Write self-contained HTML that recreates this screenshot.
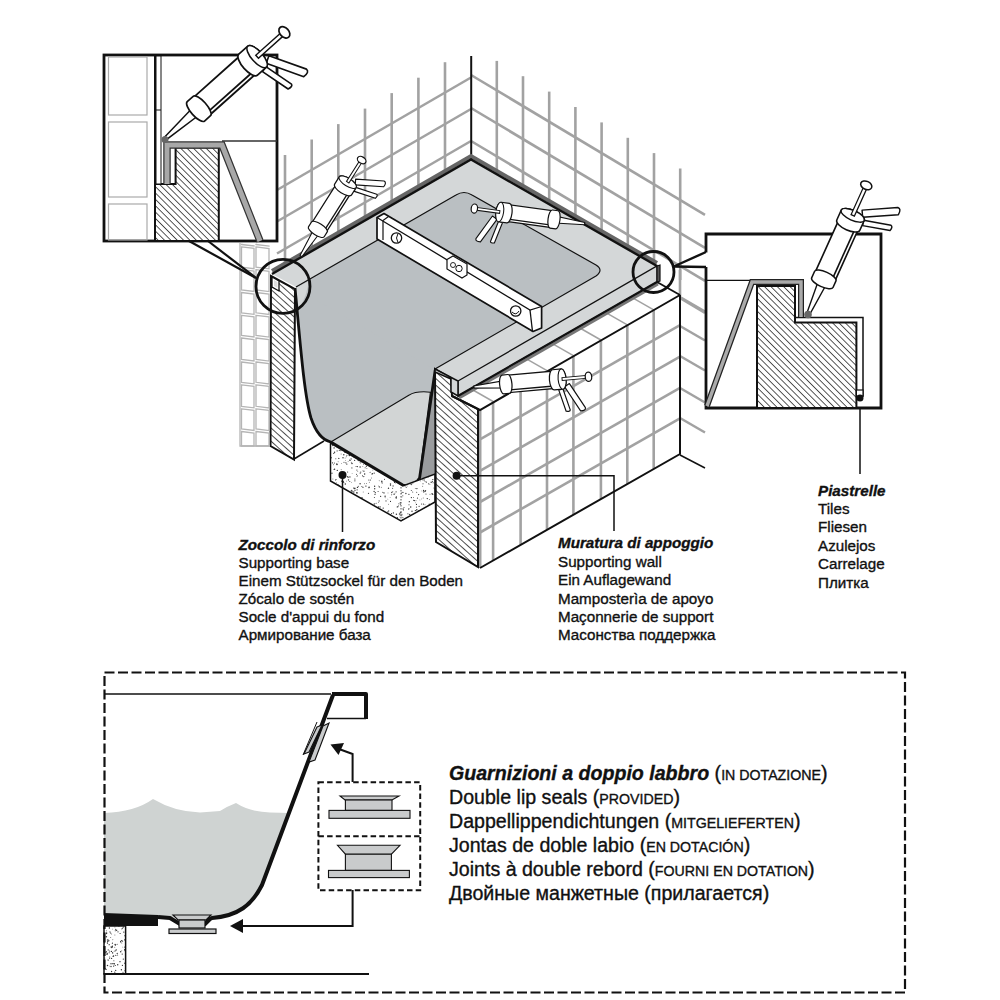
<!DOCTYPE html>
<html><head><meta charset="utf-8"><style>
html,body{margin:0;padding:0;background:#fff;width:1000px;height:1000px;overflow:hidden}
svg{position:absolute;left:0;top:0}
text{font-family:"Liberation Sans",sans-serif;fill:#111;stroke:#111;stroke-width:0.35px}
</style></head><body>
<svg width="1000" height="1000" viewBox="0 0 1000 1000">
<defs>
<pattern id="hatch" patternUnits="userSpaceOnUse" width="4.9" height="10" patternTransform="rotate(-48)">
<rect width="4.9" height="10" fill="#fff"/><line x1="0" y1="0" x2="0" y2="10" stroke="#111" stroke-width="1.5"/>
</pattern>

<pattern id="hatch2" patternUnits="userSpaceOnUse" width="4.5" height="10" patternTransform="rotate(-45)">
<rect width="4.5" height="10" fill="#fff"/><line x1="0" y1="0" x2="0" y2="10" stroke="#111" stroke-width="1.4"/>
</pattern>
</defs>
<rect width="1000" height="1000" fill="#fff"/>

<g stroke="#a2a2a2" stroke-width="2.6"><line x1="285.0" y1="155.0" x2="285.0" y2="263.2"/><line x1="311.7" y1="139.5" x2="311.7" y2="248.2"/><line x1="338.3" y1="124.1" x2="338.3" y2="233.3"/><line x1="365.0" y1="108.6" x2="365.0" y2="218.4"/><line x1="391.7" y1="93.1" x2="391.7" y2="203.4"/><line x1="418.4" y1="77.7" x2="418.4" y2="188.5"/><line x1="445.0" y1="62.2" x2="445.0" y2="173.5"/><line x1="471" y1="77.5" x2="277" y2="190.0"/><line x1="471" y1="109" x2="277" y2="221.5"/><line x1="471" y1="141" x2="277" y2="253.5"/><line x1="496.8" y1="60.9" x2="496.8" y2="280"/><line x1="523.0" y1="76.2" x2="523.0" y2="280"/><line x1="549.2" y1="91.6" x2="549.2" y2="280"/><line x1="575.4" y1="107.0" x2="575.4" y2="280"/><line x1="601.6" y1="122.4" x2="601.6" y2="280"/><line x1="627.8" y1="137.8" x2="627.8" y2="280"/><line x1="654.0" y1="153.1" x2="654.0" y2="280"/><line x1="680.2" y1="168.5" x2="680.2" y2="280"/><line x1="471" y1="75" x2="705" y2="214.9"/><line x1="471" y1="108" x2="705" y2="247.9"/><line x1="471" y1="141" x2="705" y2="280.9"/><line x1="471" y1="173" x2="705" y2="312.9"/></g>
<line x1="471.2" y1="56" x2="471.2" y2="160" stroke="#111" stroke-width="2"/>
<polygon points="272,274 471,159 657,266 660,282 458,381 435,369 296,287" fill="#d4d7d8"/>
<path d="M296,287 L456,195 Q464,190 472,195 L596,265 Q604,270 596,276 L435,369 L432,420 L300,345 Z" fill="#babfc2"/>
<path d="M296,287 L456,195 Q464,190 472,195 L596,265 Q604,270 596,276 L435,369" fill="none" stroke="#111" stroke-width="1.2"/>
<polyline points="272,271 471,156 657,263" fill="none" stroke="#666" stroke-width="4"/>
<polyline points="272,274 471,159.5 657,266" fill="none" stroke="#111" stroke-width="2.4"/>
<polygon points="294,290 305,300 318,436 330,446 294,459" fill="#fff"/>
<path d="M295,288 C300,340 304,395 311,418 C316,433 322,440 330.8,442 L402.8,485 C410,487 416,484 419.6,478 L435.2,370 L380,337 Z" fill="#babfc2"/>
<polygon points="435.2,370 437,370 437,480 419.6,478" fill="#9a9c9e"/>
<polygon points="296,288 309,281 306,294 299,311" fill="#d4d7d8"/>
<path d="M330.8,442 L408.8,395.2 C416,391 424,391.5 430.4,392.2 L433.6,382 L419.6,478 C416,484 410,485.5 402.8,485 Z" fill="#d2d5d5"/>
<path d="M330.8,442 L408.8,395.2 C416,391 424,391.5 430.4,392.2 L420.5,468" fill="none" stroke="#111" stroke-width="1.1"/>
<path d="M295,288 C300,340 304,395 311,418 C316,433 322,440 330.8,442 L402.8,485 C410,487 416,484 419.6,478 L435.2,370" fill="none" stroke="#111" stroke-width="2.8" stroke-linejoin="round"/>
<line x1="294" y1="459" x2="324" y2="441" stroke="#111" stroke-width="1.5"/>
<polygon points="271,276 295,289 294,459.6 270.5,446" fill="url(#hatch)" stroke="#111" stroke-width="2"/>
<polygon points="272,277 279,281 279,291 272,287" fill="#fff" stroke="#111" stroke-width="1.3"/>
<polygon points="274,280 277.5,282 277.5,288 274,286" fill="#ddd"/>
<g stroke="#b5b5b5" stroke-width="1.3" fill="none"><polygon points="241.5,244.5 254,246.0 254,245.9 241.5,244.4"/><polygon points="256,244.5 269,246.1 269,246.0 256,244.4"/><polygon points="241.5,246.9 254,248.4 254,268.7 241.5,267.2"/><polygon points="256,246.9 269,248.5 269,268.8 256,267.2"/><polygon points="241.5,269.7 254,271.2 254,291.5 241.5,290.0"/><polygon points="256,269.7 269,271.3 269,291.6 256,290.0"/><polygon points="241.5,292.5 254,294.0 254,314.3 241.5,312.8"/><polygon points="256,292.5 269,294.1 269,314.4 256,312.8"/><polygon points="241.5,315.3 254,316.8 254,337.0 241.5,335.5"/><polygon points="256,315.3 269,316.9 269,337.1 256,335.5"/><polygon points="241.5,338.0 254,339.5 254,361.0 241.5,359.5"/><polygon points="256,338.0 269,339.6 269,361.1 256,359.5"/><polygon points="241.5,362.0 254,363.5 254,383.8 241.5,382.3"/><polygon points="256,362.0 269,363.6 269,383.9 256,382.3"/><polygon points="241.5,384.8 254,386.3 254,407.8 241.5,406.3"/><polygon points="256,384.8 269,386.4 269,407.9 256,406.3"/><polygon points="241.5,408.8 254,410.3 254,430.5 241.5,429.0"/><polygon points="256,408.8 269,410.4 269,430.6 256,429.0"/><polygon points="241.5,431.5 254,433.0 254,446.0 241.5,446.0"/><polygon points="256,431.5 269,433.1 269,446.0 256,446.0"/><polyline points="240,243 240,446 270,446"/></g>
<clipPath id="clp1"><polygon points="330.5,443 402.8,486 435,474 435,502 401,521 330.5,481"/></clipPath><polygon points="330.5,443 402.8,486 435,474 435,502 401,521 330.5,481" fill="#fff"/><g clip-path="url(#clp1)" fill="#333"><circle cx="364.3" cy="454.8" r="0.63"/><circle cx="338.1" cy="484.8" r="0.53"/><circle cx="336.6" cy="482.6" r="0.41"/><circle cx="375.8" cy="448.4" r="0.43"/><circle cx="374.9" cy="507.5" r="0.44"/><circle cx="353.8" cy="491.9" r="0.73"/><circle cx="390.8" cy="473.9" r="0.74"/><circle cx="335.4" cy="510.0" r="0.50"/><circle cx="345.6" cy="452.2" r="0.51"/><circle cx="415.8" cy="457.1" r="0.60"/><circle cx="397.3" cy="472.0" r="0.59"/><circle cx="337.1" cy="447.6" r="0.47"/><circle cx="401.6" cy="476.4" r="0.51"/><circle cx="391.7" cy="478.3" r="0.50"/><circle cx="413.5" cy="497.5" r="0.49"/><circle cx="390.5" cy="484.0" r="0.71"/><circle cx="406.7" cy="465.5" r="0.74"/><circle cx="342.8" cy="475.6" r="0.66"/><circle cx="346.4" cy="481.1" r="0.41"/><circle cx="400.3" cy="502.6" r="0.60"/><circle cx="422.0" cy="467.5" r="0.64"/><circle cx="392.6" cy="488.2" r="0.56"/><circle cx="418.3" cy="516.7" r="0.57"/><circle cx="399.9" cy="447.7" r="0.65"/><circle cx="398.1" cy="520.5" r="0.69"/><circle cx="360.2" cy="473.1" r="0.63"/><circle cx="332.9" cy="479.0" r="0.46"/><circle cx="342.7" cy="447.6" r="0.67"/><circle cx="344.0" cy="462.3" r="0.54"/><circle cx="421.6" cy="449.3" r="0.56"/><circle cx="387.9" cy="511.9" r="0.69"/><circle cx="420.8" cy="464.7" r="0.55"/><circle cx="368.0" cy="512.0" r="0.74"/><circle cx="346.3" cy="456.7" r="0.48"/><circle cx="354.9" cy="480.8" r="0.61"/><circle cx="358.0" cy="443.3" r="0.55"/><circle cx="369.1" cy="487.2" r="0.73"/><circle cx="402.7" cy="483.2" r="0.62"/><circle cx="401.2" cy="447.2" r="0.71"/><circle cx="412.0" cy="511.2" r="0.68"/><circle cx="371.5" cy="474.1" r="0.44"/><circle cx="396.8" cy="447.9" r="0.42"/><circle cx="352.3" cy="455.7" r="0.52"/><circle cx="336.0" cy="443.0" r="0.45"/><circle cx="341.1" cy="471.4" r="0.41"/><circle cx="421.9" cy="490.9" r="0.45"/><circle cx="356.9" cy="470.1" r="0.53"/><circle cx="343.3" cy="509.2" r="0.75"/><circle cx="379.2" cy="480.7" r="0.43"/><circle cx="341.2" cy="469.7" r="0.49"/><circle cx="417.1" cy="455.6" r="0.41"/><circle cx="429.9" cy="484.2" r="0.45"/><circle cx="387.3" cy="445.1" r="0.58"/><circle cx="432.8" cy="510.3" r="0.64"/><circle cx="357.8" cy="471.6" r="0.46"/><circle cx="411.2" cy="484.5" r="0.67"/><circle cx="364.9" cy="460.4" r="0.68"/><circle cx="433.4" cy="509.5" r="0.68"/><circle cx="416.0" cy="500.7" r="0.48"/><circle cx="384.6" cy="470.7" r="0.41"/><circle cx="333.4" cy="464.8" r="0.49"/><circle cx="402.9" cy="517.6" r="0.56"/><circle cx="428.4" cy="520.1" r="0.73"/><circle cx="368.6" cy="460.2" r="0.48"/><circle cx="351.1" cy="458.9" r="0.62"/><circle cx="424.6" cy="508.6" r="0.57"/><circle cx="398.7" cy="505.4" r="0.43"/><circle cx="399.5" cy="514.0" r="0.67"/><circle cx="408.9" cy="480.3" r="0.46"/><circle cx="413.0" cy="468.9" r="0.68"/><circle cx="432.0" cy="473.9" r="0.54"/><circle cx="429.4" cy="499.5" r="0.46"/><circle cx="343.8" cy="454.8" r="0.72"/><circle cx="414.8" cy="454.4" r="0.69"/><circle cx="432.9" cy="494.3" r="0.52"/><circle cx="387.8" cy="453.2" r="0.40"/><circle cx="432.0" cy="493.7" r="0.58"/><circle cx="428.1" cy="476.8" r="0.71"/><circle cx="416.8" cy="459.5" r="0.49"/><circle cx="361.1" cy="461.8" r="0.61"/><circle cx="357.6" cy="475.7" r="0.45"/><circle cx="425.6" cy="470.6" r="0.56"/><circle cx="391.5" cy="513.5" r="0.55"/><circle cx="426.4" cy="482.1" r="0.59"/><circle cx="385.2" cy="444.5" r="0.55"/><circle cx="349.6" cy="443.3" r="0.68"/><circle cx="348.5" cy="479.9" r="0.65"/><circle cx="388.7" cy="468.4" r="0.58"/><circle cx="388.5" cy="504.2" r="0.44"/><circle cx="389.1" cy="462.4" r="0.50"/><circle cx="411.2" cy="482.6" r="0.60"/><circle cx="409.9" cy="514.2" r="0.56"/><circle cx="394.5" cy="482.4" r="0.58"/><circle cx="402.9" cy="478.3" r="0.59"/><circle cx="380.5" cy="516.4" r="0.64"/><circle cx="422.1" cy="516.5" r="0.49"/><circle cx="389.0" cy="516.6" r="0.69"/><circle cx="344.8" cy="452.5" r="0.55"/><circle cx="338.1" cy="461.8" r="0.43"/><circle cx="400.5" cy="504.1" r="0.71"/><circle cx="346.6" cy="498.9" r="0.63"/><circle cx="345.4" cy="511.9" r="0.74"/><circle cx="353.4" cy="517.3" r="0.54"/><circle cx="381.4" cy="520.2" r="0.69"/><circle cx="347.4" cy="476.7" r="0.58"/><circle cx="365.9" cy="458.3" r="0.51"/><circle cx="406.0" cy="444.5" r="0.59"/><circle cx="376.5" cy="444.4" r="0.52"/><circle cx="395.7" cy="483.0" r="0.42"/><circle cx="433.4" cy="504.5" r="0.74"/><circle cx="341.4" cy="463.7" r="0.41"/><circle cx="411.9" cy="464.1" r="0.45"/><circle cx="374.6" cy="514.1" r="0.69"/><circle cx="357.5" cy="454.7" r="0.72"/><circle cx="390.1" cy="497.6" r="0.43"/><circle cx="336.5" cy="496.7" r="0.55"/><circle cx="338.1" cy="516.2" r="0.62"/><circle cx="414.3" cy="449.5" r="0.70"/><circle cx="337.5" cy="510.3" r="0.56"/><circle cx="365.9" cy="486.1" r="0.72"/><circle cx="358.5" cy="453.1" r="0.58"/><circle cx="355.4" cy="451.5" r="0.46"/><circle cx="335.8" cy="458.7" r="0.51"/><circle cx="362.4" cy="502.2" r="0.50"/><circle cx="382.8" cy="456.9" r="0.52"/><circle cx="332.4" cy="462.5" r="0.41"/><circle cx="407.1" cy="486.0" r="0.47"/><circle cx="380.1" cy="515.9" r="0.44"/><circle cx="416.1" cy="476.7" r="0.57"/><circle cx="417.7" cy="473.7" r="0.58"/><circle cx="402.4" cy="519.6" r="0.52"/><circle cx="417.5" cy="498.1" r="0.62"/><circle cx="372.8" cy="470.1" r="0.42"/><circle cx="344.1" cy="448.5" r="0.66"/><circle cx="357.2" cy="455.7" r="0.43"/><circle cx="418.4" cy="510.9" r="0.63"/><circle cx="360.0" cy="461.9" r="0.50"/><circle cx="378.5" cy="455.3" r="0.56"/><circle cx="358.0" cy="518.0" r="0.74"/><circle cx="387.7" cy="462.1" r="0.74"/><circle cx="362.8" cy="470.8" r="0.40"/><circle cx="370.4" cy="480.0" r="0.58"/><circle cx="351.5" cy="482.4" r="0.40"/><circle cx="358.1" cy="450.0" r="0.54"/><circle cx="334.9" cy="444.8" r="0.51"/><circle cx="354.8" cy="488.7" r="0.59"/><circle cx="408.9" cy="494.3" r="0.65"/><circle cx="422.4" cy="473.4" r="0.51"/><circle cx="433.4" cy="454.7" r="0.65"/><circle cx="397.7" cy="446.4" r="0.69"/><circle cx="423.7" cy="491.9" r="0.66"/><circle cx="415.4" cy="453.9" r="0.58"/><circle cx="383.2" cy="508.1" r="0.68"/><circle cx="416.9" cy="488.6" r="0.71"/><circle cx="401.9" cy="497.1" r="0.48"/><circle cx="333.8" cy="453.4" r="0.53"/><circle cx="341.5" cy="508.2" r="0.60"/><circle cx="396.1" cy="491.8" r="0.64"/><circle cx="381.6" cy="443.3" r="0.68"/><circle cx="408.7" cy="482.2" r="0.59"/><circle cx="399.4" cy="448.2" r="0.66"/><circle cx="356.9" cy="448.8" r="0.49"/><circle cx="406.7" cy="459.0" r="0.66"/><circle cx="432.5" cy="481.5" r="0.53"/><circle cx="380.6" cy="496.3" r="0.67"/><circle cx="395.0" cy="493.1" r="0.43"/><circle cx="345.9" cy="462.8" r="0.66"/><circle cx="362.3" cy="487.3" r="0.40"/><circle cx="336.8" cy="464.0" r="0.64"/><circle cx="402.8" cy="495.7" r="0.50"/><circle cx="384.5" cy="479.2" r="0.56"/><circle cx="342.9" cy="512.7" r="0.47"/><circle cx="432.7" cy="516.0" r="0.41"/><circle cx="378.5" cy="507.0" r="0.74"/><circle cx="377.5" cy="464.0" r="0.47"/><circle cx="429.3" cy="459.4" r="0.60"/><circle cx="345.3" cy="483.9" r="0.73"/><circle cx="344.4" cy="507.0" r="0.58"/><circle cx="423.2" cy="497.9" r="0.48"/><circle cx="424.3" cy="480.9" r="0.41"/><circle cx="330.9" cy="481.4" r="0.56"/><circle cx="362.1" cy="454.0" r="0.52"/><circle cx="363.5" cy="508.5" r="0.40"/><circle cx="409.0" cy="508.5" r="0.44"/><circle cx="427.3" cy="498.6" r="0.72"/><circle cx="360.8" cy="472.0" r="0.54"/><circle cx="434.9" cy="489.0" r="0.53"/><circle cx="375.2" cy="464.5" r="0.42"/><circle cx="341.1" cy="508.1" r="0.50"/><circle cx="428.3" cy="462.4" r="0.49"/><circle cx="383.9" cy="457.8" r="0.53"/><circle cx="430.4" cy="512.0" r="0.68"/><circle cx="396.4" cy="514.2" r="0.73"/><circle cx="387.9" cy="499.1" r="0.42"/><circle cx="407.0" cy="478.2" r="0.66"/><circle cx="397.8" cy="465.3" r="0.42"/><circle cx="427.3" cy="452.9" r="0.57"/><circle cx="366.4" cy="466.2" r="0.66"/><circle cx="432.5" cy="463.3" r="0.63"/><circle cx="361.9" cy="486.5" r="0.54"/><circle cx="348.0" cy="455.6" r="0.47"/><circle cx="425.2" cy="481.8" r="0.48"/><circle cx="425.2" cy="520.7" r="0.56"/><circle cx="345.1" cy="458.0" r="0.43"/><circle cx="366.2" cy="450.1" r="0.48"/><circle cx="357.5" cy="487.4" r="0.71"/><circle cx="408.8" cy="475.2" r="0.54"/><circle cx="385.3" cy="472.4" r="0.52"/><circle cx="337.0" cy="464.6" r="0.74"/><circle cx="343.7" cy="482.3" r="0.62"/><circle cx="420.7" cy="459.8" r="0.49"/><circle cx="356.5" cy="474.2" r="0.56"/><circle cx="430.2" cy="509.2" r="0.71"/><circle cx="332.8" cy="445.5" r="0.65"/><circle cx="424.1" cy="479.9" r="0.61"/><circle cx="330.5" cy="473.5" r="0.72"/><circle cx="416.8" cy="509.7" r="0.74"/><circle cx="356.5" cy="451.5" r="0.45"/><circle cx="385.1" cy="496.2" r="0.73"/><circle cx="405.9" cy="493.5" r="0.67"/><circle cx="378.3" cy="486.0" r="0.41"/><circle cx="412.3" cy="461.1" r="0.72"/><circle cx="398.0" cy="466.7" r="0.44"/><circle cx="356.8" cy="492.6" r="0.64"/><circle cx="342.2" cy="448.5" r="0.58"/><circle cx="391.4" cy="473.3" r="0.48"/><circle cx="393.3" cy="443.8" r="0.51"/><circle cx="378.6" cy="517.8" r="0.63"/><circle cx="422.9" cy="480.1" r="0.48"/><circle cx="356.3" cy="517.9" r="0.65"/><circle cx="362.6" cy="444.7" r="0.57"/><circle cx="401.0" cy="475.8" r="0.49"/><circle cx="400.2" cy="515.2" r="0.48"/><circle cx="334.1" cy="469.4" r="0.55"/><circle cx="401.8" cy="458.5" r="0.68"/><circle cx="407.7" cy="482.4" r="0.47"/><circle cx="431.9" cy="467.3" r="0.69"/><circle cx="354.6" cy="460.3" r="0.67"/><circle cx="361.3" cy="517.3" r="0.57"/><circle cx="350.1" cy="460.4" r="0.55"/><circle cx="400.0" cy="517.0" r="0.45"/><circle cx="371.6" cy="459.6" r="0.74"/><circle cx="345.3" cy="447.0" r="0.42"/><circle cx="371.6" cy="513.1" r="0.71"/><circle cx="407.1" cy="520.8" r="0.73"/><circle cx="364.9" cy="457.5" r="0.73"/><circle cx="408.5" cy="445.5" r="0.63"/><circle cx="370.1" cy="472.2" r="0.52"/><circle cx="348.2" cy="443.2" r="0.50"/><circle cx="367.2" cy="517.5" r="0.44"/><circle cx="431.3" cy="459.2" r="0.52"/><circle cx="416.4" cy="507.1" r="0.55"/><circle cx="335.6" cy="479.9" r="0.53"/><circle cx="426.6" cy="458.1" r="0.53"/><circle cx="424.2" cy="445.4" r="0.54"/><circle cx="415.3" cy="502.8" r="0.41"/><circle cx="334.1" cy="447.9" r="0.72"/><circle cx="357.4" cy="501.3" r="0.71"/><circle cx="365.9" cy="464.2" r="0.74"/><circle cx="395.0" cy="463.4" r="0.65"/><circle cx="363.6" cy="464.5" r="0.40"/><circle cx="409.5" cy="514.5" r="0.62"/><circle cx="429.1" cy="444.9" r="0.48"/><circle cx="380.2" cy="517.6" r="0.73"/><circle cx="370.9" cy="462.6" r="0.55"/><circle cx="382.1" cy="515.4" r="0.46"/><circle cx="414.4" cy="500.6" r="0.69"/><circle cx="411.3" cy="490.4" r="0.51"/><circle cx="363.9" cy="471.2" r="0.67"/><circle cx="338.8" cy="458.4" r="0.66"/><circle cx="356.3" cy="448.0" r="0.41"/><circle cx="388.2" cy="468.4" r="0.74"/><circle cx="422.8" cy="520.1" r="0.49"/><circle cx="339.3" cy="450.5" r="0.57"/><circle cx="404.7" cy="477.9" r="0.48"/><circle cx="374.1" cy="491.4" r="0.64"/><circle cx="408.7" cy="509.1" r="0.63"/><circle cx="343.2" cy="508.6" r="0.50"/><circle cx="389.7" cy="472.1" r="0.66"/><circle cx="351.3" cy="462.3" r="0.49"/><circle cx="346.5" cy="512.0" r="0.60"/><circle cx="364.6" cy="473.9" r="0.75"/><circle cx="383.5" cy="461.0" r="0.68"/><circle cx="398.8" cy="520.3" r="0.44"/><circle cx="380.1" cy="506.9" r="0.69"/><circle cx="426.1" cy="446.1" r="0.50"/><circle cx="343.0" cy="457.8" r="0.74"/><circle cx="391.4" cy="515.6" r="0.53"/><circle cx="421.0" cy="478.0" r="0.49"/><circle cx="411.8" cy="516.8" r="0.44"/><circle cx="392.8" cy="491.4" r="0.48"/><circle cx="369.0" cy="454.0" r="0.47"/><circle cx="357.1" cy="489.8" r="0.63"/><circle cx="351.8" cy="443.9" r="0.51"/><circle cx="401.4" cy="457.4" r="0.51"/><circle cx="351.8" cy="505.0" r="0.59"/><circle cx="337.1" cy="450.9" r="0.54"/><circle cx="388.0" cy="492.9" r="0.43"/><circle cx="347.6" cy="497.2" r="0.54"/><circle cx="360.1" cy="467.0" r="0.73"/><circle cx="363.1" cy="487.2" r="0.53"/><circle cx="374.0" cy="510.4" r="0.75"/><circle cx="368.5" cy="458.4" r="0.65"/><circle cx="351.8" cy="443.5" r="0.72"/><circle cx="374.8" cy="507.0" r="0.54"/><circle cx="422.8" cy="479.0" r="0.46"/><circle cx="332.1" cy="486.0" r="0.62"/><circle cx="425.6" cy="449.9" r="0.62"/><circle cx="369.3" cy="482.3" r="0.45"/><circle cx="360.1" cy="483.7" r="0.72"/><circle cx="341.9" cy="481.3" r="0.68"/><circle cx="431.5" cy="458.4" r="0.44"/><circle cx="429.1" cy="519.1" r="0.57"/><circle cx="336.1" cy="515.2" r="0.54"/><circle cx="425.0" cy="491.4" r="0.69"/><circle cx="347.2" cy="504.3" r="0.48"/><circle cx="372.8" cy="509.0" r="0.69"/><circle cx="349.6" cy="460.0" r="0.54"/><circle cx="384.6" cy="472.9" r="0.44"/><circle cx="356.3" cy="499.5" r="0.71"/><circle cx="334.8" cy="486.9" r="0.67"/><circle cx="334.5" cy="508.4" r="0.44"/><circle cx="393.1" cy="485.9" r="0.62"/><circle cx="362.5" cy="475.8" r="0.60"/><circle cx="375.0" cy="494.4" r="0.56"/><circle cx="376.3" cy="444.8" r="0.62"/><circle cx="381.7" cy="461.3" r="0.67"/><circle cx="412.0" cy="478.7" r="0.46"/><circle cx="380.0" cy="451.4" r="0.44"/><circle cx="375.5" cy="450.2" r="0.55"/><circle cx="383.8" cy="446.2" r="0.62"/><circle cx="339.1" cy="500.2" r="0.67"/><circle cx="383.9" cy="447.2" r="0.58"/><circle cx="370.0" cy="517.2" r="0.45"/><circle cx="420.1" cy="520.7" r="0.66"/><circle cx="415.7" cy="458.1" r="0.74"/><circle cx="381.9" cy="517.6" r="0.72"/><circle cx="347.8" cy="504.5" r="0.73"/><circle cx="337.3" cy="470.4" r="0.66"/><circle cx="347.1" cy="512.9" r="0.50"/><circle cx="415.7" cy="454.2" r="0.58"/><circle cx="426.6" cy="459.2" r="0.49"/><circle cx="383.4" cy="467.9" r="0.41"/><circle cx="349.5" cy="455.6" r="0.73"/><circle cx="401.5" cy="512.8" r="0.46"/><circle cx="412.5" cy="452.0" r="0.59"/><circle cx="397.0" cy="471.1" r="0.71"/><circle cx="388.5" cy="488.2" r="0.71"/><circle cx="341.4" cy="520.5" r="0.62"/><circle cx="371.7" cy="505.2" r="0.49"/><circle cx="434.0" cy="488.0" r="0.53"/><circle cx="410.4" cy="477.5" r="0.46"/><circle cx="408.2" cy="446.8" r="0.69"/><circle cx="357.0" cy="492.9" r="0.74"/><circle cx="391.7" cy="494.8" r="0.51"/><circle cx="330.7" cy="445.6" r="0.45"/><circle cx="394.9" cy="476.7" r="0.58"/><circle cx="424.1" cy="453.3" r="0.48"/><circle cx="398.7" cy="444.7" r="0.40"/><circle cx="367.6" cy="451.3" r="0.53"/><circle cx="353.9" cy="488.5" r="0.61"/><circle cx="351.8" cy="491.7" r="0.57"/><circle cx="344.6" cy="516.1" r="0.49"/><circle cx="346.1" cy="450.5" r="0.62"/><circle cx="421.5" cy="504.0" r="0.54"/><circle cx="358.1" cy="443.9" r="0.63"/><circle cx="389.3" cy="470.3" r="0.63"/><circle cx="376.9" cy="516.1" r="0.66"/><circle cx="356.5" cy="513.5" r="0.42"/><circle cx="386.0" cy="474.7" r="0.48"/><circle cx="336.6" cy="503.8" r="0.40"/><circle cx="388.1" cy="516.4" r="0.45"/><circle cx="351.3" cy="490.4" r="0.58"/><circle cx="397.5" cy="506.4" r="0.46"/><circle cx="362.8" cy="466.4" r="0.42"/><circle cx="423.4" cy="504.1" r="0.65"/><circle cx="331.2" cy="508.9" r="0.66"/><circle cx="379.1" cy="500.9" r="0.56"/><circle cx="354.1" cy="451.2" r="0.48"/><circle cx="334.6" cy="469.2" r="0.66"/><circle cx="403.1" cy="508.9" r="0.65"/><circle cx="358.3" cy="486.2" r="0.55"/><circle cx="412.9" cy="483.8" r="0.49"/><circle cx="397.6" cy="518.3" r="0.48"/><circle cx="422.5" cy="444.2" r="0.49"/><circle cx="355.2" cy="501.0" r="0.73"/><circle cx="408.5" cy="468.5" r="0.71"/><circle cx="364.8" cy="461.7" r="0.72"/><circle cx="396.4" cy="497.0" r="0.63"/><circle cx="432.8" cy="479.6" r="0.69"/><circle cx="403.4" cy="509.9" r="0.55"/><circle cx="406.2" cy="487.5" r="0.51"/><circle cx="352.7" cy="491.6" r="0.43"/><circle cx="425.7" cy="454.3" r="0.41"/><circle cx="341.6" cy="515.5" r="0.52"/><circle cx="345.3" cy="445.2" r="0.41"/><circle cx="402.9" cy="492.4" r="0.64"/><circle cx="407.5" cy="448.1" r="0.61"/><circle cx="368.5" cy="506.8" r="0.69"/><circle cx="423.6" cy="448.1" r="0.70"/><circle cx="426.1" cy="516.7" r="0.44"/><circle cx="352.0" cy="451.7" r="0.41"/><circle cx="419.1" cy="506.3" r="0.62"/><circle cx="416.7" cy="492.3" r="0.50"/><circle cx="340.9" cy="450.6" r="0.67"/><circle cx="351.9" cy="467.9" r="0.55"/><circle cx="332.7" cy="463.0" r="0.50"/><circle cx="405.3" cy="471.7" r="0.51"/><circle cx="431.2" cy="482.3" r="0.70"/><circle cx="395.1" cy="445.4" r="0.54"/><circle cx="376.1" cy="503.3" r="0.52"/><circle cx="404.1" cy="485.0" r="0.48"/><circle cx="420.6" cy="450.1" r="0.69"/><circle cx="348.3" cy="443.1" r="0.47"/><circle cx="410.1" cy="519.3" r="0.40"/><circle cx="381.8" cy="481.3" r="0.68"/><circle cx="349.8" cy="481.6" r="0.52"/><circle cx="417.4" cy="463.3" r="0.73"/><circle cx="360.1" cy="459.7" r="0.64"/><circle cx="382.6" cy="451.6" r="0.62"/><circle cx="339.0" cy="504.5" r="0.64"/><circle cx="412.7" cy="492.0" r="0.52"/><circle cx="372.4" cy="473.8" r="0.71"/><circle cx="339.5" cy="512.3" r="0.41"/><circle cx="352.0" cy="463.5" r="0.72"/><circle cx="382.9" cy="472.6" r="0.71"/><circle cx="354.9" cy="479.0" r="0.59"/><circle cx="409.3" cy="501.7" r="0.63"/><circle cx="366.9" cy="468.5" r="0.45"/><circle cx="418.6" cy="494.6" r="0.66"/><circle cx="348.2" cy="477.2" r="0.67"/><circle cx="391.0" cy="452.8" r="0.56"/><circle cx="423.0" cy="461.6" r="0.47"/><circle cx="362.0" cy="497.8" r="0.70"/><circle cx="346.7" cy="455.2" r="0.49"/><circle cx="364.6" cy="483.7" r="0.46"/><circle cx="364.8" cy="457.8" r="0.74"/><circle cx="406.7" cy="450.9" r="0.74"/><circle cx="341.1" cy="473.0" r="0.74"/><circle cx="413.6" cy="500.2" r="0.55"/><circle cx="351.0" cy="492.8" r="0.44"/><circle cx="352.1" cy="473.3" r="0.41"/><circle cx="372.2" cy="504.7" r="0.64"/><circle cx="382.8" cy="492.3" r="0.56"/><circle cx="345.3" cy="490.1" r="0.54"/><circle cx="407.9" cy="513.8" r="0.55"/><circle cx="390.5" cy="501.4" r="0.55"/><circle cx="354.4" cy="499.3" r="0.71"/><circle cx="411.4" cy="497.6" r="0.70"/><circle cx="401.5" cy="493.0" r="0.56"/><circle cx="363.2" cy="492.0" r="0.43"/><circle cx="374.3" cy="504.0" r="0.65"/><circle cx="396.3" cy="462.5" r="0.55"/><circle cx="378.1" cy="491.5" r="0.54"/><circle cx="401.1" cy="515.6" r="0.46"/><circle cx="398.9" cy="503.7" r="0.54"/><circle cx="381.7" cy="519.0" r="0.41"/><circle cx="387.3" cy="455.5" r="0.67"/><circle cx="428.8" cy="483.5" r="0.44"/><circle cx="390.5" cy="485.2" r="0.65"/><circle cx="384.0" cy="492.9" r="0.69"/><circle cx="385.0" cy="475.0" r="0.73"/><circle cx="352.5" cy="496.4" r="0.54"/><circle cx="410.2" cy="452.5" r="0.74"/><circle cx="367.6" cy="447.4" r="0.50"/><circle cx="372.3" cy="444.0" r="0.55"/><circle cx="374.4" cy="497.5" r="0.52"/><circle cx="358.2" cy="460.5" r="0.66"/><circle cx="428.7" cy="484.1" r="0.48"/><circle cx="414.3" cy="473.6" r="0.47"/><circle cx="344.0" cy="503.6" r="0.68"/><circle cx="396.8" cy="479.6" r="0.60"/><circle cx="354.1" cy="518.2" r="0.52"/><circle cx="397.3" cy="506.9" r="0.69"/><circle cx="379.4" cy="466.0" r="0.59"/><circle cx="343.6" cy="508.0" r="0.52"/><circle cx="419.4" cy="463.9" r="0.53"/><circle cx="357.0" cy="476.2" r="0.47"/><circle cx="330.8" cy="499.3" r="0.50"/><circle cx="356.1" cy="466.5" r="0.57"/><circle cx="375.3" cy="492.7" r="0.63"/><circle cx="368.4" cy="515.4" r="0.70"/><circle cx="336.5" cy="507.6" r="0.72"/><circle cx="412.4" cy="454.0" r="0.69"/><circle cx="396.7" cy="444.2" r="0.40"/><circle cx="430.0" cy="494.2" r="0.49"/><circle cx="341.1" cy="454.1" r="0.48"/><circle cx="411.6" cy="470.0" r="0.45"/><circle cx="425.0" cy="504.8" r="0.46"/><circle cx="423.6" cy="490.5" r="0.67"/><circle cx="400.4" cy="512.7" r="0.68"/><circle cx="418.2" cy="458.4" r="0.64"/><circle cx="386.0" cy="500.9" r="0.55"/><circle cx="422.7" cy="486.3" r="0.49"/><circle cx="355.0" cy="453.9" r="0.57"/><circle cx="336.6" cy="479.4" r="0.45"/><circle cx="381.8" cy="481.9" r="0.59"/><circle cx="420.7" cy="443.5" r="0.69"/><circle cx="379.4" cy="486.9" r="0.63"/><circle cx="418.3" cy="472.2" r="0.55"/><circle cx="430.9" cy="448.9" r="0.62"/><circle cx="397.0" cy="445.2" r="0.61"/><circle cx="401.8" cy="515.7" r="0.52"/><circle cx="433.1" cy="482.8" r="0.57"/><circle cx="424.3" cy="445.6" r="0.65"/><circle cx="395.8" cy="469.4" r="0.70"/><circle cx="368.8" cy="480.0" r="0.58"/><circle cx="411.0" cy="459.4" r="0.55"/><circle cx="374.6" cy="486.2" r="0.69"/><circle cx="361.1" cy="507.6" r="0.54"/><circle cx="383.1" cy="464.2" r="0.58"/><circle cx="432.4" cy="494.1" r="0.68"/><circle cx="365.1" cy="467.7" r="0.50"/><circle cx="391.8" cy="492.5" r="0.67"/><circle cx="334.7" cy="499.4" r="0.71"/><circle cx="387.5" cy="446.9" r="0.51"/><circle cx="331.1" cy="457.8" r="0.72"/><circle cx="394.1" cy="494.3" r="0.68"/><circle cx="425.6" cy="490.7" r="0.62"/><circle cx="396.0" cy="497.3" r="0.61"/><circle cx="401.7" cy="459.6" r="0.63"/><circle cx="378.3" cy="502.5" r="0.44"/><circle cx="349.4" cy="445.9" r="0.67"/><circle cx="426.0" cy="494.1" r="0.53"/><circle cx="416.5" cy="504.4" r="0.60"/><circle cx="357.5" cy="466.6" r="0.55"/><circle cx="363.8" cy="476.6" r="0.62"/><circle cx="428.1" cy="447.3" r="0.60"/><circle cx="334.6" cy="452.3" r="0.68"/><circle cx="390.6" cy="514.7" r="0.56"/><circle cx="332.0" cy="473.2" r="0.61"/><circle cx="428.5" cy="519.5" r="0.57"/><circle cx="373.6" cy="451.0" r="0.63"/><circle cx="352.7" cy="454.8" r="0.41"/><circle cx="331.0" cy="496.3" r="0.44"/><circle cx="431.5" cy="449.9" r="0.70"/><circle cx="344.0" cy="444.4" r="0.65"/><circle cx="355.8" cy="500.2" r="0.47"/><circle cx="335.7" cy="503.4" r="0.65"/><circle cx="419.9" cy="499.9" r="0.43"/><circle cx="396.2" cy="498.3" r="0.56"/><circle cx="427.9" cy="462.8" r="0.74"/><circle cx="405.4" cy="443.9" r="0.41"/><circle cx="398.5" cy="506.8" r="0.43"/><circle cx="363.0" cy="499.9" r="0.46"/><circle cx="420.5" cy="480.9" r="0.42"/><circle cx="368.9" cy="487.8" r="0.55"/><circle cx="401.2" cy="454.3" r="0.68"/><circle cx="368.5" cy="493.3" r="0.62"/><circle cx="374.2" cy="473.1" r="0.68"/><circle cx="429.2" cy="504.2" r="0.60"/><circle cx="361.1" cy="447.7" r="0.74"/><circle cx="404.0" cy="507.5" r="0.52"/><circle cx="393.8" cy="519.2" r="0.69"/><circle cx="393.3" cy="467.1" r="0.55"/><circle cx="423.3" cy="472.4" r="0.64"/><circle cx="393.4" cy="512.9" r="0.68"/><circle cx="360.1" cy="443.1" r="0.49"/><circle cx="374.7" cy="488.8" r="0.69"/><circle cx="423.2" cy="446.3" r="0.69"/><circle cx="415.3" cy="510.6" r="0.60"/><circle cx="359.1" cy="509.4" r="0.68"/><circle cx="402.0" cy="514.3" r="0.52"/><circle cx="339.4" cy="486.2" r="0.68"/><circle cx="351.4" cy="501.5" r="0.73"/><circle cx="355.0" cy="490.3" r="0.64"/><circle cx="379.1" cy="459.1" r="0.49"/><circle cx="409.0" cy="504.7" r="0.56"/><circle cx="339.7" cy="505.9" r="0.67"/><circle cx="354.8" cy="488.2" r="0.71"/><circle cx="423.0" cy="483.7" r="0.57"/><circle cx="392.1" cy="457.8" r="0.47"/><circle cx="349.4" cy="497.7" r="0.53"/><circle cx="389.5" cy="474.4" r="0.58"/><circle cx="346.1" cy="446.5" r="0.75"/><circle cx="369.6" cy="451.3" r="0.62"/><circle cx="412.8" cy="455.2" r="0.61"/><circle cx="366.5" cy="483.5" r="0.41"/><circle cx="334.0" cy="520.3" r="0.70"/><circle cx="381.3" cy="487.2" r="0.49"/><circle cx="411.9" cy="476.2" r="0.73"/><circle cx="410.7" cy="506.9" r="0.74"/><circle cx="357.0" cy="446.0" r="0.47"/><circle cx="349.4" cy="449.5" r="0.42"/><circle cx="388.7" cy="510.9" r="0.56"/><circle cx="429.5" cy="514.0" r="0.42"/><circle cx="393.0" cy="474.0" r="0.44"/><circle cx="430.7" cy="463.1" r="0.60"/><circle cx="397.4" cy="517.6" r="0.63"/><circle cx="371.6" cy="478.0" r="0.46"/><circle cx="431.4" cy="520.4" r="0.48"/><circle cx="334.5" cy="463.0" r="0.52"/><circle cx="424.8" cy="513.6" r="0.69"/><circle cx="335.4" cy="504.3" r="0.65"/><circle cx="398.1" cy="519.9" r="0.42"/><circle cx="345.6" cy="501.9" r="0.73"/><circle cx="401.2" cy="466.3" r="0.61"/><circle cx="409.7" cy="451.2" r="0.51"/><circle cx="357.4" cy="452.7" r="0.57"/><circle cx="348.1" cy="461.6" r="0.45"/><circle cx="401.3" cy="444.0" r="0.65"/><circle cx="350.9" cy="445.8" r="0.72"/><circle cx="353.5" cy="515.9" r="0.70"/><circle cx="423.4" cy="453.9" r="0.56"/><circle cx="340.6" cy="515.4" r="0.69"/><circle cx="396.2" cy="478.3" r="0.52"/><circle cx="416.5" cy="480.2" r="0.62"/><circle cx="345.4" cy="460.3" r="0.42"/><circle cx="405.1" cy="486.2" r="0.45"/><circle cx="421.5" cy="463.8" r="0.54"/><circle cx="346.8" cy="464.1" r="0.69"/><circle cx="365.5" cy="456.1" r="0.57"/><circle cx="363.7" cy="513.4" r="0.44"/><circle cx="432.8" cy="447.4" r="0.71"/><circle cx="400.3" cy="459.5" r="0.57"/><circle cx="360.4" cy="463.1" r="0.47"/><circle cx="368.6" cy="520.3" r="0.75"/><circle cx="427.2" cy="450.6" r="0.50"/><circle cx="424.2" cy="447.5" r="0.65"/><circle cx="361.2" cy="519.3" r="0.41"/><circle cx="414.8" cy="469.6" r="0.45"/><circle cx="330.7" cy="507.9" r="0.58"/><circle cx="349.9" cy="476.9" r="0.72"/><circle cx="353.3" cy="487.6" r="0.45"/><circle cx="349.3" cy="503.1" r="0.65"/><circle cx="351.1" cy="449.2" r="0.43"/><circle cx="394.1" cy="481.6" r="0.50"/><circle cx="352.0" cy="490.8" r="0.65"/><circle cx="415.3" cy="488.5" r="0.47"/><circle cx="337.4" cy="500.2" r="0.54"/><circle cx="405.9" cy="447.3" r="0.68"/><circle cx="365.5" cy="508.7" r="0.70"/><circle cx="382.0" cy="444.2" r="0.72"/><circle cx="380.3" cy="511.0" r="0.49"/><circle cx="349.9" cy="507.9" r="0.53"/><circle cx="347.6" cy="472.0" r="0.61"/><circle cx="331.0" cy="483.5" r="0.56"/><circle cx="384.4" cy="452.4" r="0.65"/><circle cx="415.8" cy="510.5" r="0.51"/><circle cx="404.8" cy="472.7" r="0.66"/><circle cx="336.9" cy="511.1" r="0.73"/><circle cx="382.2" cy="483.0" r="0.59"/><circle cx="386.7" cy="444.6" r="0.74"/><circle cx="353.9" cy="457.2" r="0.44"/><circle cx="356.7" cy="506.7" r="0.41"/><circle cx="340.6" cy="497.5" r="0.47"/><circle cx="332.3" cy="489.8" r="0.60"/><circle cx="385.1" cy="497.8" r="0.44"/><circle cx="421.4" cy="498.9" r="0.42"/><circle cx="343.4" cy="481.5" r="0.58"/></g><polygon points="330.5,443 402.8,486 435,474 435,502 401,521 330.5,481" fill="none" stroke="#111" stroke-width="1.5"/>
<line x1="401" y1="487" x2="401" y2="520" stroke="#555" stroke-width="1" stroke-dasharray="1.5,1.5"/>
<g stroke="#a2a2a2" stroke-width="2.6"><line x1="680" y1="297" x2="705" y2="311.5"/><line x1="680" y1="326" x2="705" y2="340.5"/><line x1="680" y1="356" x2="705" y2="370.5"/><line x1="680" y1="388" x2="705" y2="402.5"/><line x1="680" y1="418" x2="705" y2="432.5"/><line x1="680" y1="270" x2="680" y2="296"/></g>
<polygon points="480,409 680,295 680,454 480,568" fill="#fff"/>
<g stroke="#a2a2a2" stroke-width="2.6"><line x1="493.1" y1="401.5" x2="493.1" y2="560.5"/><line x1="520.6" y1="385.8" x2="520.6" y2="544.8"/><line x1="547" y1="370.7" x2="547" y2="529.7"/><line x1="573.4" y1="355.7" x2="573.4" y2="514.7"/><line x1="600.9" y1="340.0" x2="600.9" y2="499.0"/><line x1="627.3" y1="324.9" x2="627.3" y2="483.9"/><line x1="653.7" y1="309.8" x2="653.7" y2="468.8"/><line x1="480" y1="439.4" x2="680" y2="325.2"/><line x1="480" y1="470.8" x2="680" y2="356.6"/><line x1="480" y1="502.0" x2="680" y2="387.8"/><line x1="480" y1="532.5" x2="680" y2="418.3"/><line x1="480" y1="409" x2="480" y2="568" stroke-width="3"/></g>
<polyline points="680,295 680,454 480,568" fill="none" stroke="#111" stroke-width="2"/>
<polygon points="435,369 451,378 452,396 478,409 478,567 436,542" fill="url(#hatch)" stroke="#111" stroke-width="2"/>
<line x1="680" y1="455" x2="705" y2="468" stroke="#111" stroke-width="1.5"/>
<polygon points="458,396 657,282 680,295 480,409" fill="#fff"/>
<g stroke="#a2a2a2" stroke-width="1.5"><line x1="493.1" y1="401.5" x2="472.1" y2="389.5"/><line x1="520.6" y1="385.8" x2="499.6" y2="373.8"/><line x1="547" y1="370.7" x2="526" y2="358.7"/><line x1="573.4" y1="355.7" x2="552.4" y2="343.7"/><line x1="600.9" y1="340.0" x2="579.9" y2="328.0"/><line x1="627.3" y1="324.9" x2="606.3" y2="312.9"/><line x1="653.7" y1="309.8" x2="632.7" y2="297.8"/></g>
<polyline points="452,396 480,410 680,295" fill="none" stroke="#111" stroke-width="2"/>
<polygon points="458,381 657,266 657,282 458,396" fill="#d4d7d8" stroke="#111" stroke-width="1.3"/>
<line x1="459" y1="398" x2="658" y2="284" stroke="#777" stroke-width="3"/>
<line x1="458" y1="396" x2="657" y2="282" stroke="#111" stroke-width="2.2"/>
<polygon points="435,369 458,381 458,396 451,392 451,379 435,372" fill="#d4d7d8" stroke="#111" stroke-width="1.5"/>
<polygon points="657,266 660,265 660,281 657,282" fill="#555" stroke="#111" stroke-width="1.2"/>
<line x1="657" y1="282" x2="680" y2="295" stroke="#111" stroke-width="1.8"/>
<circle cx="342.5" cy="475" r="4" fill="#111"/><line x1="342.5" y1="475" x2="342.5" y2="532" stroke="#111" stroke-width="1.5"/>
<circle cx="456.6" cy="475.7" r="4" fill="#111"/><polyline points="456.6,475.7 614,475.7 614,531" fill="none" stroke="#111" stroke-width="1.5"/>
<line x1="860" y1="398" x2="860" y2="474" stroke="#111" stroke-width="1.5"/>
<circle cx="283" cy="286.4" r="27" fill="none" stroke="#111" stroke-width="2.8"/>
<circle cx="653.5" cy="272" r="20.5" fill="none" stroke="#111" stroke-width="2.8"/>
<line x1="189" y1="241" x2="256" y2="278" stroke="#111" stroke-width="2.2"/>
<line x1="208" y1="241" x2="256" y2="278" stroke="#111" stroke-width="2.2"/>
<polyline points="706,252 673.8,266.5 706,267" fill="none" stroke="#111" stroke-width="2.4" stroke-linejoin="miter"/>
<rect x="104" y="55" width="173" height="186" fill="#fff" stroke="#111" stroke-width="2.8"/>
<rect x="108.5" y="57" width="38.5" height="58" fill="none" stroke="#aaa" stroke-width="1.2"/><rect x="108.5" y="122" width="38.5" height="75" fill="none" stroke="#aaa" stroke-width="1.2"/><rect x="108.5" y="204" width="38.5" height="36" fill="none" stroke="#aaa" stroke-width="1.2"/>
<polygon points="175.6,147.6 218.8,147.6 218.8,241 155,241 155,184 175.6,184" fill="url(#hatch2)" stroke="#111" stroke-width="2"/>
<line x1="155" y1="55" x2="155" y2="241" stroke="#111" stroke-width="2"/>
<rect x="156" y="56" width="5" height="128" fill="#fff" stroke="#111" stroke-width="1"/>
<line x1="156" y1="110" x2="161" y2="110" stroke="#111" stroke-width="1"/>
<path d="M167,184 L167,145 L222,145 L260,241" fill="none" stroke="#333" stroke-width="7.5"/>
<path d="M167,184 L167,145 L222,145 L260,241" fill="none" stroke="#a8a8a8" stroke-width="5"/>
<line x1="222" y1="141" x2="277" y2="141" stroke="#333" stroke-width="1.6"/>
<rect x="706" y="234" width="175" height="174" fill="#fff"/>
<path d="M706,252.5 L706,234 L881,234 L881,408 L706,408 L706,267" fill="none" stroke="#111" stroke-width="2.8"/>
<line x1="706" y1="280.4" x2="752" y2="280.4" stroke="#111" stroke-width="1.2"/>
<polygon points="757,286 795,286 795,322.4 856.4,322.4 856.4,408 757,408" fill="url(#hatch2)" stroke="#111" stroke-width="2"/>
<path d="M795,317.5 L863,317.5 L863,396 L856.4,396" fill="none" stroke="#111" stroke-width="1.5"/>
<rect x="856.4" y="390" width="6.6" height="6" fill="#fff" stroke="#111" stroke-width="1.2"/>
<path d="M707,406 L752,282 L801,282 L801,317" fill="none" stroke="#222" stroke-width="6"/>
<path d="M707,406 L752,282 L801,282 L801,317" fill="none" stroke="#aaa" stroke-width="3.5"/>
<circle cx="860" cy="398" r="3.5" fill="#111"/>
<g transform="translate(166,138) rotate(-41.75) scale(1.001,1.001)"><path d="M0,-1.6 L42,-5 L42,5 L0,1.6 Z" fill="#fff" stroke="#111" stroke-width="1.5"/>
<path d="M131.5,7.1 L150.5,42.1 Q151,46.5 143.5,45.9 L124.5,10.9 Z" fill="#fff" stroke="#111" stroke-width="1.6" stroke-linejoin="round"/>
<path d="M121.9,13.3 L129.4,43.3 Q129,46 123.6,44.7 L116.1,14.7 Z" fill="#fff" stroke="#111" stroke-width="1.6" stroke-linejoin="round"/>
<rect x="47" y="-12" width="65" height="24" fill="#fff" stroke="#111" stroke-width="1.8"/>
<line x1="49" y1="8.5" x2="110" y2="8.5" stroke="#111" stroke-width="1.8"/>
<path d="M40,-13 L48,-13 A4.5,13 0 0 1 48,13 L40,13 A4.5,13 0 0 1 40,-13 Z" fill="#fff" stroke="#111" stroke-width="1.7"/>
<path d="M110,-14 L122,-14 A5.5,14 0 0 1 122,14 L110,14 A5.5,14 0 0 1 110,-14 Z" fill="#fff" stroke="#111" stroke-width="1.7"/>
<ellipse cx="122" cy="0" rx="5.5" ry="14" fill="#fff" stroke="#111" stroke-width="1.5"/>
<rect x="122" y="-2" width="33" height="4" fill="#fff" stroke="#111" stroke-width="1.4"/>
<ellipse cx="158.5" cy="0" rx="4.5" ry="6.5" fill="#fff" stroke="#111" stroke-width="1.7"/></g>
<g transform="translate(301,256) rotate(-57.68) scale(0.716,0.716)"><path d="M0,-1.6 L42,-5 L42,5 L0,1.6 Z" fill="#fff" stroke="#111" stroke-width="1.5"/>
<path d="M131.5,7.1 L150.5,42.1 Q151,46.5 143.5,45.9 L124.5,10.9 Z" fill="#fff" stroke="#111" stroke-width="1.6" stroke-linejoin="round"/>
<path d="M121.9,13.3 L129.4,43.3 Q129,46 123.6,44.7 L116.1,14.7 Z" fill="#fff" stroke="#111" stroke-width="1.6" stroke-linejoin="round"/>
<rect x="47" y="-12" width="65" height="24" fill="#fff" stroke="#111" stroke-width="1.8"/>
<line x1="49" y1="8.5" x2="110" y2="8.5" stroke="#111" stroke-width="1.8"/>
<path d="M40,-13 L48,-13 A4.5,13 0 0 1 48,13 L40,13 A4.5,13 0 0 1 40,-13 Z" fill="#fff" stroke="#111" stroke-width="1.7"/>
<path d="M110,-14 L122,-14 A5.5,14 0 0 1 122,14 L110,14 A5.5,14 0 0 1 110,-14 Z" fill="#fff" stroke="#111" stroke-width="1.7"/>
<ellipse cx="122" cy="0" rx="5.5" ry="14" fill="#fff" stroke="#111" stroke-width="1.5"/>
<rect x="122" y="-2" width="33" height="4" fill="#fff" stroke="#111" stroke-width="1.4"/>
<ellipse cx="158.5" cy="0" rx="4.5" ry="6.5" fill="#fff" stroke="#111" stroke-width="1.7"/></g>
<g transform="translate(584.6,223.6) rotate(-172.22) scale(0.702,-0.702)"><path d="M0,-1.6 L42,-5 L42,5 L0,1.6 Z" fill="#fff" stroke="#111" stroke-width="1.5"/>
<path d="M131.5,7.1 L150.5,42.1 Q151,46.5 143.5,45.9 L124.5,10.9 Z" fill="#fff" stroke="#111" stroke-width="1.6" stroke-linejoin="round"/>
<path d="M121.9,13.3 L129.4,43.3 Q129,46 123.6,44.7 L116.1,14.7 Z" fill="#fff" stroke="#111" stroke-width="1.6" stroke-linejoin="round"/>
<rect x="47" y="-12" width="65" height="24" fill="#fff" stroke="#111" stroke-width="1.8"/>
<line x1="49" y1="8.5" x2="110" y2="8.5" stroke="#111" stroke-width="1.8"/>
<path d="M40,-13 L48,-13 A4.5,13 0 0 1 48,13 L40,13 A4.5,13 0 0 1 40,-13 Z" fill="#fff" stroke="#111" stroke-width="1.7"/>
<path d="M110,-14 L122,-14 A5.5,14 0 0 1 122,14 L110,14 A5.5,14 0 0 1 110,-14 Z" fill="#fff" stroke="#111" stroke-width="1.7"/>
<ellipse cx="122" cy="0" rx="5.5" ry="14" fill="#fff" stroke="#111" stroke-width="1.5"/>
<rect x="122" y="-2" width="33" height="4" fill="#fff" stroke="#111" stroke-width="1.4"/>
<ellipse cx="158.5" cy="0" rx="4.5" ry="6.5" fill="#fff" stroke="#111" stroke-width="1.7"/></g>
<g transform="translate(474,387) rotate(-5.13) scale(0.725,0.725)"><path d="M0,-1.6 L42,-5 L42,5 L0,1.6 Z" fill="#fff" stroke="#111" stroke-width="1.5"/>
<path d="M131.5,7.1 L150.5,42.1 Q151,46.5 143.5,45.9 L124.5,10.9 Z" fill="#fff" stroke="#111" stroke-width="1.6" stroke-linejoin="round"/>
<path d="M121.9,13.3 L129.4,43.3 Q129,46 123.6,44.7 L116.1,14.7 Z" fill="#fff" stroke="#111" stroke-width="1.6" stroke-linejoin="round"/>
<rect x="47" y="-12" width="65" height="24" fill="#fff" stroke="#111" stroke-width="1.8"/>
<line x1="49" y1="8.5" x2="110" y2="8.5" stroke="#111" stroke-width="1.8"/>
<path d="M40,-13 L48,-13 A4.5,13 0 0 1 48,13 L40,13 A4.5,13 0 0 1 40,-13 Z" fill="#fff" stroke="#111" stroke-width="1.7"/>
<path d="M110,-14 L122,-14 A5.5,14 0 0 1 122,14 L110,14 A5.5,14 0 0 1 110,-14 Z" fill="#fff" stroke="#111" stroke-width="1.7"/>
<ellipse cx="122" cy="0" rx="5.5" ry="14" fill="#fff" stroke="#111" stroke-width="1.5"/>
<rect x="122" y="-2" width="33" height="4" fill="#fff" stroke="#111" stroke-width="1.4"/>
<ellipse cx="158.5" cy="0" rx="4.5" ry="6.5" fill="#fff" stroke="#111" stroke-width="1.7"/></g>
<g transform="translate(807.5,315.5) rotate(-65.70) scale(0.901,0.901)"><path d="M0,-1.6 L42,-5 L42,5 L0,1.6 Z" fill="#fff" stroke="#111" stroke-width="1.5"/>
<path d="M131.5,7.1 L150.5,42.1 Q151,46.5 143.5,45.9 L124.5,10.9 Z" fill="#fff" stroke="#111" stroke-width="1.6" stroke-linejoin="round"/>
<path d="M121.9,13.3 L129.4,43.3 Q129,46 123.6,44.7 L116.1,14.7 Z" fill="#fff" stroke="#111" stroke-width="1.6" stroke-linejoin="round"/>
<rect x="47" y="-12" width="65" height="24" fill="#fff" stroke="#111" stroke-width="1.8"/>
<line x1="49" y1="8.5" x2="110" y2="8.5" stroke="#111" stroke-width="1.8"/>
<path d="M40,-13 L48,-13 A4.5,13 0 0 1 48,13 L40,13 A4.5,13 0 0 1 40,-13 Z" fill="#fff" stroke="#111" stroke-width="1.7"/>
<path d="M110,-14 L122,-14 A5.5,14 0 0 1 122,14 L110,14 A5.5,14 0 0 1 110,-14 Z" fill="#fff" stroke="#111" stroke-width="1.7"/>
<ellipse cx="122" cy="0" rx="5.5" ry="14" fill="#fff" stroke="#111" stroke-width="1.5"/>
<rect x="122" y="-2" width="33" height="4" fill="#fff" stroke="#111" stroke-width="1.4"/>
<ellipse cx="158.5" cy="0" rx="4.5" ry="6.5" fill="#fff" stroke="#111" stroke-width="1.7"/></g>
<circle cx="808" cy="314.5" r="3.8" fill="#666"/>
<circle cx="165" cy="139.5" r="3.5" fill="#666"/>
<polygon points="377,217.5 384,213.5 541.6,306.5 541.6,328 533,331.5 377,239" fill="#fff" stroke="#111" stroke-width="1.7" stroke-linejoin="round"/>
<polyline points="377,217.5 530,310 541.6,306.5" fill="none" stroke="#111" stroke-width="1.3"/>
<line x1="530" y1="310" x2="532.5" y2="331.5" stroke="#111" stroke-width="1.3"/>
<polyline points="383,220.5 388.5,216.5" fill="none" stroke="#111" stroke-width="1.1"/>
<line x1="383" y1="220.5" x2="383" y2="240" stroke="#111" stroke-width="1.2"/>
<circle cx="396.5" cy="238" r="5.2" fill="#fff" stroke="#111" stroke-width="1.3"/>
<path d="M398,233.5 Q395,238 398,242.5" fill="none" stroke="#111" stroke-width="1"/>
<circle cx="515.7" cy="311" r="5.2" fill="#fff" stroke="#111" stroke-width="1.3"/>
<path d="M512,312 Q516,316 519,311" fill="none" stroke="#111" stroke-width="1"/>
<polygon points="447,259.5 453,256 467,264 467,275 462,278 447,269" fill="#fff" stroke="#111" stroke-width="1.2"/>
<circle cx="459" cy="268.5" r="3.2" fill="#fff" stroke="#111" stroke-width="1"/>
<circle cx="453" cy="265" r="2.5" fill="#fff" stroke="#111" stroke-width="0.9"/>
<text x="238.5" y="549.5" style="font-weight:bold;font-style:italic;font-size:15.2px">Zoccolo di rinforzo</text><text x="238.5" y="567.6" style="font-size:15.2px">Supporting base</text><text x="238.5" y="585.7" style="font-size:15.2px">Einem Stützsockel für den Boden</text><text x="238.5" y="603.8" style="font-size:15.2px">Zócalo de sostén</text><text x="238.5" y="621.9" style="font-size:15.2px">Socle d'appui du fond</text><text x="238.5" y="640.0" style="font-size:15.2px">Армирование база</text>
<text x="558" y="548.3" style="font-weight:bold;font-style:italic;font-size:15.2px">Muratura di appoggio</text><text x="558" y="566.7" style="font-size:15.2px">Supporting wall</text><text x="558" y="585.1" style="font-size:15.2px">Ein Auflagewand</text><text x="558" y="603.5" style="font-size:15.2px">Mamposterìa de apoyo</text><text x="558" y="621.9" style="font-size:15.2px">Maçonnerie de support</text><text x="558" y="640.3" style="font-size:15.2px">Масонства поддержка</text>
<text x="818" y="495.5" style="font-weight:bold;font-style:italic;font-size:15.2px">Piastrelle</text><text x="818" y="513.9" style="font-size:15.2px">Tiles</text><text x="818" y="532.3" style="font-size:15.2px">Fliesen</text><text x="818" y="550.7" style="font-size:15.2px">Azulejos</text><text x="818" y="569.1" style="font-size:15.2px">Carrelage</text><text x="818" y="587.5" style="font-size:15.2px">Плитка</text>
<line x1="104" y1="694" x2="331" y2="694" stroke="#111" stroke-width="1.5"/>
<path d="M104,813 Q135,812 153,799 Q175,812 200,812.4 L220,811 Q228,806 236,803 Q250,812 270,812.4 L290,813 L262,885 C252,905 238,916 212,918 L104,916 Z" fill="#cfd3d2"/>
<path d="M332,694 L366,694 L366,719" fill="none" stroke="#111" stroke-width="4" stroke-linejoin="round"/>
<line x1="327" y1="718.5" x2="366" y2="718.5" stroke="#111" stroke-width="1.5"/>
<path d="M333,695 L262,885 C252,905 238,916 212,918 L210,919 L205,924 L180,924 L170,918 L158,917" fill="none" stroke="#111" stroke-width="4" stroke-linejoin="round"/>
<polygon points="104,913 158,915 158,926 104,926" fill="#111"/>
<clipPath id="clp2"><polygon points="104,926 125.6,926 125.6,974 104,974"/></clipPath><polygon points="104,926 125.6,926 125.6,974 104,974" fill="#fff"/><g clip-path="url(#clp2)" fill="#333"><circle cx="110.0" cy="931.9" r="0.54"/><circle cx="107.0" cy="954.4" r="0.70"/><circle cx="107.2" cy="953.5" r="0.66"/><circle cx="107.5" cy="965.6" r="0.73"/><circle cx="112.4" cy="946.2" r="0.69"/><circle cx="115.4" cy="945.0" r="0.73"/><circle cx="120.8" cy="942.3" r="0.48"/><circle cx="111.2" cy="946.9" r="0.74"/><circle cx="121.4" cy="969.8" r="0.69"/><circle cx="122.3" cy="928.6" r="0.58"/><circle cx="124.7" cy="970.8" r="0.49"/><circle cx="113.1" cy="956.4" r="0.53"/><circle cx="115.5" cy="929.3" r="0.55"/><circle cx="114.9" cy="927.0" r="0.45"/><circle cx="124.9" cy="963.3" r="0.73"/><circle cx="117.7" cy="964.8" r="0.71"/><circle cx="123.1" cy="927.6" r="0.62"/><circle cx="109.7" cy="958.6" r="0.50"/><circle cx="115.7" cy="970.4" r="0.62"/><circle cx="109.4" cy="951.0" r="0.55"/><circle cx="124.5" cy="939.8" r="0.51"/><circle cx="118.0" cy="931.8" r="0.61"/><circle cx="124.7" cy="950.7" r="0.49"/><circle cx="114.1" cy="951.6" r="0.45"/><circle cx="106.7" cy="932.3" r="0.50"/><circle cx="112.8" cy="939.8" r="0.49"/><circle cx="105.9" cy="952.2" r="0.69"/><circle cx="117.2" cy="953.4" r="0.63"/><circle cx="108.3" cy="960.1" r="0.56"/><circle cx="115.8" cy="955.4" r="0.56"/><circle cx="110.7" cy="937.6" r="0.48"/><circle cx="115.1" cy="944.4" r="0.60"/><circle cx="104.3" cy="942.9" r="0.70"/><circle cx="109.2" cy="952.7" r="0.57"/><circle cx="110.2" cy="973.4" r="0.50"/><circle cx="120.7" cy="933.6" r="0.42"/><circle cx="122.8" cy="947.1" r="0.42"/><circle cx="112.4" cy="947.1" r="0.66"/><circle cx="106.4" cy="936.8" r="0.74"/><circle cx="120.0" cy="933.4" r="0.52"/><circle cx="111.6" cy="958.4" r="0.62"/><circle cx="122.4" cy="965.4" r="0.58"/><circle cx="120.0" cy="961.7" r="0.67"/><circle cx="114.3" cy="963.7" r="0.65"/><circle cx="123.8" cy="932.1" r="0.70"/><circle cx="104.1" cy="962.8" r="0.61"/><circle cx="114.8" cy="972.2" r="0.60"/><circle cx="113.0" cy="963.6" r="0.71"/><circle cx="117.1" cy="944.2" r="0.56"/><circle cx="113.9" cy="960.7" r="0.50"/><circle cx="112.4" cy="952.7" r="0.53"/><circle cx="111.0" cy="963.8" r="0.70"/><circle cx="114.8" cy="947.3" r="0.46"/><circle cx="110.6" cy="933.0" r="0.60"/><circle cx="116.6" cy="930.2" r="0.72"/><circle cx="111.0" cy="966.5" r="0.69"/><circle cx="124.7" cy="935.8" r="0.55"/><circle cx="123.7" cy="926.5" r="0.42"/><circle cx="116.2" cy="949.9" r="0.72"/><circle cx="120.7" cy="951.8" r="0.75"/><circle cx="115.2" cy="950.8" r="0.64"/><circle cx="112.4" cy="943.2" r="0.61"/><circle cx="111.6" cy="971.5" r="0.64"/><circle cx="115.3" cy="930.8" r="0.53"/><circle cx="112.7" cy="952.9" r="0.60"/><circle cx="123.0" cy="972.3" r="0.57"/><circle cx="113.5" cy="956.0" r="0.75"/><circle cx="111.4" cy="951.4" r="0.69"/><circle cx="107.7" cy="941.3" r="0.74"/><circle cx="121.8" cy="950.6" r="0.44"/><circle cx="123.3" cy="959.1" r="0.69"/><circle cx="125.4" cy="968.6" r="0.55"/><circle cx="107.4" cy="939.9" r="0.58"/><circle cx="114.9" cy="935.0" r="0.46"/><circle cx="117.6" cy="955.0" r="0.52"/><circle cx="125.5" cy="956.6" r="0.41"/><circle cx="112.9" cy="963.8" r="0.51"/><circle cx="118.9" cy="926.2" r="0.51"/><circle cx="122.2" cy="954.1" r="0.63"/><circle cx="108.2" cy="949.9" r="0.59"/><circle cx="109.7" cy="957.0" r="0.59"/><circle cx="125.5" cy="953.6" r="0.54"/><circle cx="106.6" cy="933.5" r="0.67"/><circle cx="106.3" cy="930.8" r="0.46"/><circle cx="115.3" cy="965.5" r="0.61"/><circle cx="121.4" cy="929.0" r="0.40"/><circle cx="120.6" cy="941.5" r="0.65"/><circle cx="111.6" cy="934.1" r="0.49"/><circle cx="106.1" cy="969.4" r="0.60"/><circle cx="111.5" cy="947.6" r="0.53"/><circle cx="105.2" cy="968.7" r="0.60"/><circle cx="124.7" cy="947.1" r="0.62"/><circle cx="109.4" cy="928.1" r="0.73"/><circle cx="122.5" cy="941.1" r="0.71"/><circle cx="121.6" cy="940.6" r="0.61"/><circle cx="124.7" cy="949.8" r="0.73"/><circle cx="109.2" cy="944.7" r="0.65"/><circle cx="108.8" cy="940.8" r="0.71"/><circle cx="114.5" cy="964.1" r="0.49"/><circle cx="107.7" cy="943.2" r="0.47"/><circle cx="125.0" cy="940.0" r="0.60"/><circle cx="106.5" cy="951.6" r="0.53"/><circle cx="112.7" cy="929.1" r="0.44"/><circle cx="121.8" cy="942.9" r="0.49"/><circle cx="108.1" cy="939.6" r="0.48"/><circle cx="104.8" cy="957.9" r="0.52"/><circle cx="107.4" cy="959.9" r="0.43"/><circle cx="109.8" cy="966.1" r="0.44"/><circle cx="113.6" cy="966.1" r="0.68"/><circle cx="107.4" cy="942.9" r="0.65"/></g><polygon points="104,926 125.6,926 125.6,974 104,974" fill="none" stroke="#111" stroke-width="1.5"/>
<line x1="104" y1="974" x2="369" y2="974" stroke="#111" stroke-width="2"/>
<polygon points="323,726 329,723 315,760 309,762" fill="#c9cbcc" stroke="#111" stroke-width="1.1"/>
<polygon points="317,727 322,725 309,752 304,754" fill="#c9cbcc" stroke="#111" stroke-width="1.1"/>
<line x1="317" y1="722" x2="303" y2="755" stroke="#111" stroke-width="1"/>
<polygon points="173,915 211,915 206,920 178,920" fill="#c9cbcc" stroke="#111" stroke-width="1.2"/>
<rect x="179" y="920" width="26" height="8" fill="#c9cbcc" stroke="#111" stroke-width="1.2"/>
<rect x="169" y="929" width="47" height="4.5" fill="#c9cbcc" stroke="#111" stroke-width="1.2"/>
<rect x="318.4" y="782.3" width="101.8" height="108" fill="#fff" stroke="#111" stroke-width="2" stroke-dasharray="5.5,3.2"/>
<line x1="318.4" y1="836.3" x2="420.2" y2="836.3" stroke="#111" stroke-width="2" stroke-dasharray="5.5,3.2"/>
<polygon points="340,796 399,796 392,800 345,800" fill="#c9cbcc" stroke="#111" stroke-width="1.1"/>
<rect x="345.4" y="800" width="46.6" height="10.4" fill="#c9cbcc" stroke="#111" stroke-width="1.1"/>
<rect x="329" y="810.4" width="81" height="7.9" fill="#c9cbcc" stroke="#111" stroke-width="1.1"/>
<polygon points="337.5,845.3 400,845.3 391.4,854.2 345.4,854.2" fill="#c9cbcc" stroke="#111" stroke-width="1.1"/>
<rect x="345.4" y="854.2" width="46" height="16.2" fill="#c9cbcc" stroke="#111" stroke-width="1.1"/>
<rect x="328.5" y="870.4" width="80.9" height="7.2" fill="#c9cbcc" stroke="#111" stroke-width="1.1"/>
<polyline points="352.6,782 352.6,754 339,749" fill="none" stroke="#111" stroke-width="2"/>
<polygon points="330.5,744.5 344,743 338.5,755" fill="#111"/>
<polyline points="352.6,890 352.6,926 240,926" fill="none" stroke="#111" stroke-width="2"/>
<polygon points="230,926 243,919 243,933" fill="#111"/>
<text x="449" y="779.5" style="font-size:19.6px"><tspan style="font-weight:bold;font-style:italic;">Guarnizioni a doppio labbro</tspan> (<tspan style="font-size:14.2px">IN DOTAZIONE</tspan>)</text>
<text x="449" y="803.5" style="font-size:19.6px"><tspan style="">Double lip seals</tspan> (<tspan style="font-size:14.2px">PROVIDED</tspan>)</text>
<text x="449" y="827.5" style="font-size:19.6px"><tspan style="">Dappellippendichtungen</tspan> (<tspan style="font-size:14.2px">MITGELIEFERTEN</tspan>)</text>
<text x="449" y="851.5" style="font-size:19.6px"><tspan style="">Jontas de doble labio</tspan> (<tspan style="font-size:14.2px">EN DOTACIÓN</tspan>)</text>
<text x="449" y="875.5" style="font-size:19.6px"><tspan style="">Joints à double rebord</tspan> (<tspan style="font-size:14.2px">FOURNI EN DOTATION</tspan>)</text>
<text x="449" y="899.5" style="font-size:19.6px">Двойные манжетные (прилагается)</text>
<rect x="104.5" y="672.5" width="800.5" height="320" fill="none" stroke="#111" stroke-width="2.2" stroke-dasharray="10,3.5"/>
</svg></body></html>
